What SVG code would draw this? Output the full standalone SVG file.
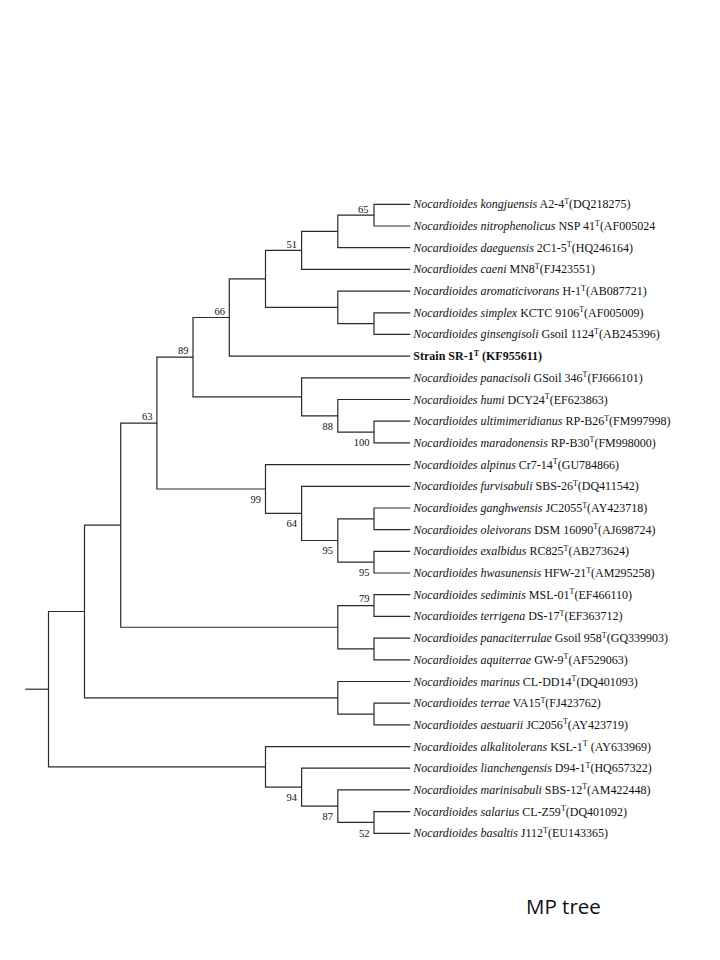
<svg xmlns="http://www.w3.org/2000/svg" width="720" height="960" viewBox="0 0 720 960">
<style>
.br{fill:none;stroke:#2a2a2a;stroke-width:1.2;stroke-linejoin:miter}
.lf{font-family:"Liberation Serif","Times New Roman",serif;font-size:12px;fill:#111}
.i{font-style:italic}
.s{font-size:8px}
.bs{font-family:"Liberation Serif","Times New Roman",serif;font-size:10.5px;fill:#111;text-anchor:end}
.b{font-weight:bold}
.cap{font-family:"Open Sans","Noto Sans",sans-serif;font-size:20.5px;fill:#111}
</style>
<rect width="720" height="960" fill="#fff"/>
<g id="connectors" class="br">
<path d="M25.3 689.2H48.5"/>
<path id="e-root" d="M84.5 611.5H48.5V766.9H265.5"/>
<path id="e-A" d="M410.2 204.3H374V226H410.2"/>
<path id="e-B" d="M374 215.15H337.8V247.7H410.2"/>
<path id="e-C" d="M337.8 231.4H301.6V269.4H410.2"/>
<path id="e-E" d="M410.2 312.8H374V334.4H410.2"/>
<path id="e-D" d="M410.2 291.1H337.8V323.6H374"/>
<path id="e-F" d="M301.6 250.4H265.5V307.35H337.8"/>
<path id="e-G" d="M265.5 278.9H229.3V356.1H410.2"/>
<path id="e-H3" d="M410.2 421.2H374V442.9H410.2"/>
<path id="e-H2" d="M410.2 399.5H337.8V432.05H374"/>
<path id="e-H" d="M410.2 377.8H301.6V415.8H337.8"/>
<path id="e-I" d="M229.3 317.5H193V396.8H301.6"/>
<path id="e-M" d="M410.2 508H374V529.7H410.2"/>
<path id="e-N" d="M410.2 551.3H374V573H410.2"/>
<path id="e-L" d="M374 518.85H337.8V562.15H374"/>
<path id="e-K" d="M410.2 486.3H301.6V540.5H337.8"/>
<path id="e-J" d="M410.2 464.6H265.5V513.4H301.6"/>
<path id="e-63" d="M193 357.15H156.9V489H265.5"/>
<path id="e-Q" d="M410.2 594.7H374V616.4H410.2"/>
<path id="e-R" d="M410.2 638.1H374V659.8H410.2"/>
<path id="e-P" d="M374 605.55H337.8V648.95H374"/>
<path id="e-O" d="M156.9 423.1H120.7V627.25H337.8"/>
<path id="e-V" d="M410.2 703.2H374V724.9H410.2"/>
<path id="e-U" d="M410.2 681.5H337.8V714.05H374"/>
<path id="e-S" d="M120.7 525.2H84.5V697.8H337.8"/>
<path id="e-Y" d="M410.2 811.6H374V833.3H410.2"/>
<path id="e-X" d="M410.2 789.9H337.8V822.45H374"/>
<path id="e-W" d="M410.2 768.2H301.6V806.2H337.8"/>
<path id="e-T" d="M410.2 746.6H265.5V787.2H301.6"/>
</g>
<g id="bootstrap" class="bs">
<text x="368.5" y="212.5">65</text>
<text x="297" y="247.5">51</text>
<text x="225" y="314.5">66</text>
<text x="188.5" y="353.5">89</text>
<text x="152.5" y="420">63</text>
<text x="333" y="430">88</text>
<text x="369.5" y="446">100</text>
<text x="261" y="503">99</text>
<text x="297" y="527">64</text>
<text x="333" y="554">95</text>
<text x="369.5" y="576">95</text>
<text x="369.5" y="601.5">79</text>
<text x="297" y="800.5">94</text>
<text x="333" y="820">87</text>
<text x="369.5" y="837">52</text>
</g>
<g class="lf">
<g id="n00"><text x="413.3" y="208.3"><tspan class="i">Nocardioides kongjuensis</tspan> A2-4<tspan class="s" dy="-4.5">T</tspan><tspan dy="4.5">(DQ218275)</tspan></text></g>
<g id="n01"><text x="413.3" y="230"><tspan class="i">Nocardioides nitrophenolicus</tspan> NSP 41<tspan class="s" dy="-4.5">T</tspan><tspan dy="4.5">(AF005024</tspan></text></g>
<g id="n02"><text x="413.3" y="251.7"><tspan class="i">Nocardioides daeguensis</tspan> 2C1-5<tspan class="s" dy="-4.5">T</tspan><tspan dy="4.5">(HQ246164)</tspan></text></g>
<g id="n03"><text x="413.3" y="273.4"><tspan class="i">Nocardioides caeni</tspan> MN8<tspan class="s" dy="-4.5">T</tspan><tspan dy="4.5">(FJ423551)</tspan></text></g>
<g id="n04"><text x="413.3" y="295.1"><tspan class="i">Nocardioides aromaticivorans</tspan> H-1<tspan class="s" dy="-4.5">T</tspan><tspan dy="4.5">(AB087721)</tspan></text></g>
<g id="n05"><text x="413.3" y="316.8"><tspan class="i">Nocardioides simplex</tspan> KCTC 9106<tspan class="s" dy="-4.5">T</tspan><tspan dy="4.5">(AF005009)</tspan></text></g>
<g id="n06"><text x="413.3" y="338.4"><tspan class="i">Nocardioides ginsengisoli</tspan> Gsoil 1124<tspan class="s" dy="-4.5">T</tspan><tspan dy="4.5">(AB245396)</tspan></text></g>
<g id="n07"><text class="b" x="413.3" y="360.1">Strain SR-1<tspan class="s" dy="-4.5">T</tspan><tspan dy="4.5"> (KF955611)</tspan></text></g>
<g id="n08"><text x="413.3" y="381.8"><tspan class="i">Nocardioides panacisoli</tspan> GSoil 346<tspan class="s" dy="-4.5">T</tspan><tspan dy="4.5">(FJ666101)</tspan></text></g>
<g id="n09"><text x="413.3" y="403.5"><tspan class="i">Nocardioides humi</tspan> DCY24<tspan class="s" dy="-4.5">T</tspan><tspan dy="4.5">(EF623863)</tspan></text></g>
<g id="n10"><text x="413.3" y="425.2"><tspan class="i">Nocardioides ultimimeridianus</tspan> RP-B26<tspan class="s" dy="-4.5">T</tspan><tspan dy="4.5">(FM997998)</tspan></text></g>
<g id="n11"><text x="413.3" y="446.9"><tspan class="i">Nocardioides maradonensis</tspan> RP-B30<tspan class="s" dy="-4.5">T</tspan><tspan dy="4.5">(FM998000)</tspan></text></g>
<g id="n12"><text x="413.3" y="468.6"><tspan class="i">Nocardioides alpinus</tspan> Cr7-14<tspan class="s" dy="-4.5">T</tspan><tspan dy="4.5">(GU784866)</tspan></text></g>
<g id="n13"><text x="413.3" y="490.3"><tspan class="i">Nocardioides furvisabuli</tspan> SBS-26<tspan class="s" dy="-4.5">T</tspan><tspan dy="4.5">(DQ411542)</tspan></text></g>
<g id="n14"><text x="413.3" y="512"><tspan class="i">Nocardioides ganghwensis</tspan> JC2055<tspan class="s" dy="-4.5">T</tspan><tspan dy="4.5">(AY423718)</tspan></text></g>
<g id="n15"><text x="413.3" y="533.7"><tspan class="i">Nocardioides oleivorans</tspan> DSM 16090<tspan class="s" dy="-4.5">T</tspan><tspan dy="4.5">(AJ698724)</tspan></text></g>
<g id="n16"><text x="413.3" y="555.3"><tspan class="i">Nocardioides exalbidus</tspan> RC825<tspan class="s" dy="-4.5">T</tspan><tspan dy="4.5">(AB273624)</tspan></text></g>
<g id="n17"><text x="413.3" y="577"><tspan class="i">Nocardioides hwasunensis</tspan> HFW-21<tspan class="s" dy="-4.5">T</tspan><tspan dy="4.5">(AM295258)</tspan></text></g>
<g id="n18"><text x="413.3" y="598.7"><tspan class="i">Nocardioides sediminis</tspan> MSL-01<tspan class="s" dy="-4.5">T</tspan><tspan dy="4.5">(EF466110)</tspan></text></g>
<g id="n19"><text x="413.3" y="620.4"><tspan class="i">Nocardioides terrigena</tspan> DS-17<tspan class="s" dy="-4.5">T</tspan><tspan dy="4.5">(EF363712)</tspan></text></g>
<g id="n20"><text x="413.3" y="642.1"><tspan class="i">Nocardioides panaciterrulae</tspan> Gsoil 958<tspan class="s" dy="-4.5">T</tspan><tspan dy="4.5">(GQ339903)</tspan></text></g>
<g id="n21"><text x="413.3" y="663.8"><tspan class="i">Nocardioides aquiterrae</tspan> GW-9<tspan class="s" dy="-4.5">T</tspan><tspan dy="4.5">(AF529063)</tspan></text></g>
<g id="n22"><text x="413.3" y="685.5"><tspan class="i">Nocardioides marinus</tspan> CL-DD14<tspan class="s" dy="-4.5">T</tspan><tspan dy="4.5">(DQ401093)</tspan></text></g>
<g id="n23"><text x="413.3" y="707.2"><tspan class="i">Nocardioides terrae</tspan> VA15<tspan class="s" dy="-4.5">T</tspan><tspan dy="4.5">(FJ423762)</tspan></text></g>
<g id="n24"><text x="413.3" y="728.9"><tspan class="i">Nocardioides aestuarii</tspan> JC2056<tspan class="s" dy="-4.5">T</tspan><tspan dy="4.5">(AY423719)</tspan></text></g>
<g id="n25"><text x="413.3" y="750.6"><tspan class="i">Nocardioides alkalitolerans</tspan> KSL-1<tspan class="s" dy="-4.5">T</tspan><tspan dy="4.5"> (AY633969)</tspan></text></g>
<g id="n26"><text x="413.3" y="772.2"><tspan class="i">Nocardioides lianchengensis</tspan> D94-1<tspan class="s" dy="-4.5">T</tspan><tspan dy="4.5">(HQ657322)</tspan></text></g>
<g id="n27"><text x="413.3" y="793.9"><tspan class="i">Nocardioides marinisabuli</tspan> SBS-12<tspan class="s" dy="-4.5">T</tspan><tspan dy="4.5">(AM422448)</tspan></text></g>
<g id="n28"><text x="413.3" y="815.6"><tspan class="i">Nocardioides salarius</tspan> CL-Z59<tspan class="s" dy="-4.5">T</tspan><tspan dy="4.5">(DQ401092)</tspan></text></g>
<g id="n29"><text x="413.3" y="837.3"><tspan class="i">Nocardioides basaltis</tspan> J112<tspan class="s" dy="-4.5">T</tspan><tspan dy="4.5">(EU143365)</tspan></text></g>
</g>
<g id="title"><text class="cap" x="526" y="914">MP tree</text></g>
</svg>
